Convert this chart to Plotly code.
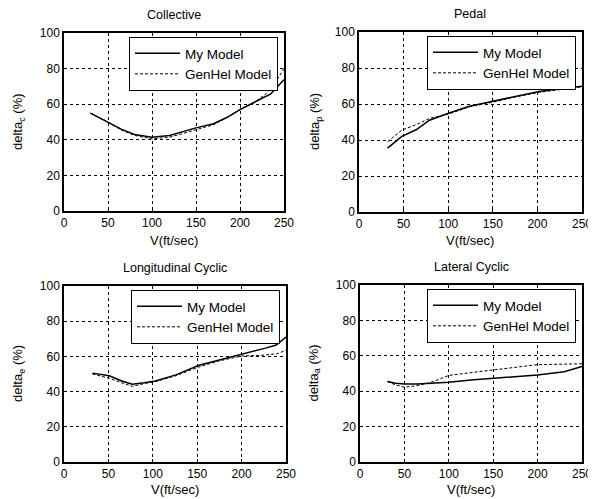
import plotly.graph_objects as go

W, H = 596, 499
OFF = 8  # page body margin offset in the browser

titles = ["Collective", "Pedal", "Longitudinal Cyclic", "Lateral Cyclic"]
ylabels = ["delta<sub>c</sub> (%)", "delta<sub>p</sub> (%)", "delta<sub>e</sub> (%)", "delta<sub>a</sub> (%)"]
xlabel = "V(ft/sec)"
tick_vals_x = [0, 50, 100, 150, 200, 250]
tick_vals_y = [0, 20, 40, 60, 80, 100]

# Collective
col_my_v = [30, 50, 65, 80, 100, 120, 135, 150, 170, 185, 200, 223, 235, 250]
col_my_d = [55, 50, 46, 43, 41.5, 42.4, 44.5, 46.7, 49, 52.5, 57, 62.6, 65.8, 73.8]
col_gh_v = [30, 50, 65, 80, 100, 120, 135, 150, 170, 185, 200, 215, 230, 240, 250]
col_gh_d = [55, 50, 45.5, 42.5, 40.5, 41.5, 43.5, 45.8, 48.5, 52.5, 57, 60.5, 66, 72, 80]

# Pedal
ped_my_v = [32, 40, 48, 64, 79, 101, 124, 150, 176, 202, 225, 250]
ped_my_d = [35.5, 38.5, 42, 45.7, 51, 55, 58.7, 61.5, 64.3, 67, 68.5, 69.8]
ped_gh_v = [32, 40, 48, 64, 79, 101, 124, 150, 176, 202, 225, 250]
ped_gh_d = [39, 42, 45.5, 48.5, 52, 54.5, 58.5, 61, 64, 66.5, 68, 69.5]

# Longitudinal Cyclic
lon_my_v = [32, 51, 65, 77, 90, 103, 126, 152, 175, 201, 227, 239, 250]
lon_my_d = [50.5, 49, 46, 44.2, 45, 46, 49.5, 55, 58, 61.2, 64.7, 66.5, 71]
lon_gh_v = [32, 51, 65, 77, 90, 103, 126, 152, 175, 201, 220, 240, 250]
lon_gh_d = [50, 47.6, 45, 43, 44.5, 45.7, 49, 54, 57.5, 60.3, 60.5, 61.5, 63.5]

# Lateral Cyclic
lat_my_v = [31, 40, 50, 65, 80, 100, 125, 151, 175, 200, 230, 250]
lat_my_d = [45.5, 44.5, 44, 44, 44.5, 45, 46.3, 47.4, 48.3, 49.2, 51, 54]
lat_gh_v = [31, 40, 50, 63, 80, 100, 125, 151, 175, 200, 230, 250]
lat_gh_d = [45.5, 43.5, 42.3, 43, 45, 48.9, 50.5, 52, 53.5, 55, 55.3, 55.5]

data = [
    (col_my_v, col_my_d, col_gh_v, col_gh_d),
    (ped_my_v, ped_my_d, ped_gh_v, ped_gh_d),
    (lon_my_v, lon_my_d, lon_gh_v, lon_gh_d),
    (lat_my_v, lat_my_d, lat_gh_v, lat_gh_d),
]

# plot area pixel boxes in the screenshot (left, right, top, bottom)
boxes = [(64, 284, 33, 211), (359, 582, 32, 212), (64, 286, 286, 462), (360, 582, 285, 462)]
# axis-title centres in the screenshot: (x of y-title, y of x-title)
title_pos = [(18, 240), (315, 240), (18, 489), (314, 489)]

FONT = "Liberation Sans, Arial, sans-serif"
fig = go.Figure()
layout = dict(
    width=W, height=H, margin=dict(l=0, r=0, t=0, b=0, autoexpand=False),
    paper_bgcolor="white", plot_bgcolor="white",
    font=dict(family=FONT, color="black", size=12),
    annotations=[],
)


def px(x):
    return (x - OFF) / W


def py(y):
    return 1 - (y - OFF) / H


for i, ((mv, md, gv, gd), (l, r, t, b), (ytx, xty)) in enumerate(zip(data, boxes, title_pos)):
    n = "" if i == 0 else str(i + 1)
    leg = "legend" + n
    fig.add_trace(go.Scatter(x=mv, y=md, mode="lines", name="My Model",
                             line=dict(color="black", width=1.5),
                             legendgroup="my" + n,
                             xaxis="x" + n, yaxis="y" + n, legend=leg))
    fig.add_trace(go.Scatter(x=gv, y=gd, mode="lines", name="GenHel Model",
                             line=dict(color="black", width=1, dash="3px,2px"),
                             legendgroup="gh" + n,
                             xaxis="x" + n, yaxis="y" + n, legend=leg))
    common = dict(showline=True, linecolor="black", linewidth=1.5, mirror=True,
                  showgrid=True, gridcolor="black", griddash="dot", gridwidth=1,
                  ticks="inside", ticklen=3, tickcolor="black",
                  tickfont=dict(size=12, family=FONT, color="black"),
                  zeroline=False, fixedrange=True, automargin=False)
    layout["xaxis" + n] = dict(domain=[px(l), px(r)], range=[0, 250], tickvals=tick_vals_x,
                               anchor="y" + n, **common)
    layout["yaxis" + n] = dict(domain=[py(b), py(t)], range=[0, 100], tickvals=tick_vals_y,
                               anchor="x" + n, **common)
    layout[leg] = dict(x=px(r - 6), y=py(t + 4), xanchor="right", yanchor="top",
                       xref="paper", yref="paper",
                       bgcolor="white", bordercolor="black", borderwidth=1,
                       font=dict(size=13.5, family=FONT, color="black"),
                       tracegroupgap=0, itemwidth=45)
    layout["annotations"] += [
        dict(text=titles[i], x=px((l + r) / 2), y=py(t - 9),
             xref="paper", yref="paper", showarrow=False,
             yanchor="bottom", xanchor="center",
             font=dict(size=12.5, family=FONT, color="black")),
        dict(text=xlabel, x=px((l + r) / 2), y=py(xty),
             xref="paper", yref="paper", showarrow=False,
             yanchor="middle", xanchor="center",
             font=dict(size=13, family=FONT, color="black")),
        dict(text=ylabels[i], x=px(ytx), y=py((t + b) / 2), textangle=-90,
             xref="paper", yref="paper", showarrow=False,
             yanchor="middle", xanchor="center",
             font=dict(size=13, family=FONT, color="black")),
    ]

fig.update_layout(**layout)
fig.write_html("out.html")
